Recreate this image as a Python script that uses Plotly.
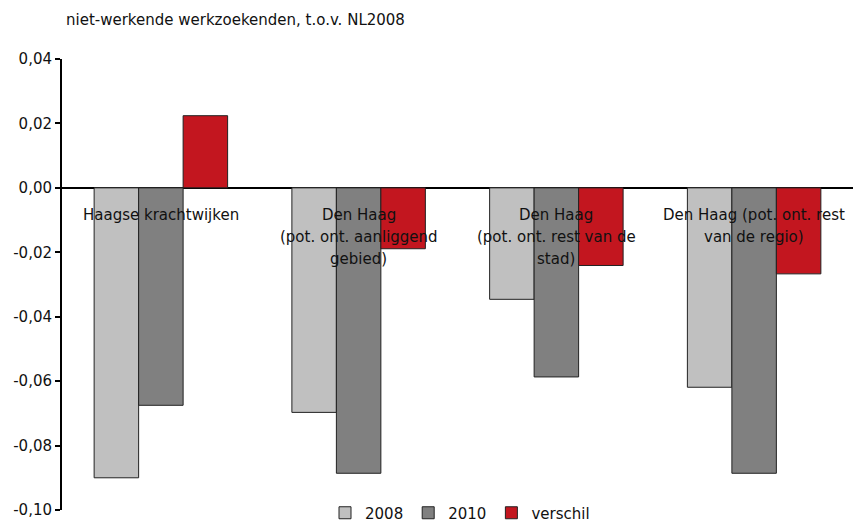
import plotly.graph_objects as go

# Chart data
categories = [
    "Haagse krachtwijken",
    "Den Haag<br>(pot. ont. aanliggend<br>gebied)",
    "Den Haag<br>(pot. ont. rest van de<br>stad)",
    "Den Haag (pot. ont. rest<br>van de regio)",
]
series_names = ["2008", "2010", "verschil"]
values_2008 = [-0.0900, -0.0697, -0.0346, -0.0619]
values_2010 = [-0.0675, -0.0886, -0.0587, -0.0886]
values_verschil = [0.0224, -0.0189, -0.0241, -0.0267]
series_colors = ["#C0C0C0", "#808080", "#C3161F"]

tick_values = [0.04, 0.02, 0.0, -0.02, -0.04, -0.06, -0.08, -0.10]
tick_labels = ["0,04", "0,02", "0,00", "-0,02", "-0,04", "-0,06", "-0,08", "-0,10"]

title_text = "niet-werkende werkzoekenden, t.o.v. NL2008"

FONT = "DejaVu Sans, Liberation Sans, Arial, sans-serif"
FS = 15
TXT = "#111111"
LINE_H = 22

W, H = 853, 523
M_L, M_R, M_T, M_B = 62, 0, 59, 13

x_idx = list(range(len(categories)))

fig = go.Figure()
for name, vals, color in zip(series_names,
                             [values_2008, values_2010, values_verschil],
                             series_colors):
    fig.add_trace(go.Bar(
        x=x_idx, y=vals, name=name,
        marker=dict(color=color, line=dict(color="#222222", width=1)),
    ))

# Category labels sit just under the zero line, centred on each group,
# one annotation per text line for a fixed line pitch
for i, label in enumerate(categories):
    for k, line in enumerate(label.split("<br>")):
        fig.add_annotation(
            x=i, y=0, xref="x", yref="y",
            text=line, showarrow=False,
            yanchor="middle", yshift=-(27 + LINE_H * k),
            font=dict(family=FONT, size=FS, color=TXT),
            align="center",
        )

# Title above the plot area, positioned in pixels
plot_h = H - M_T - M_B
plot_w = W - M_L - M_R
fig.add_annotation(
    x=(64 - M_L) / plot_w, y=1 + (M_T - 20) / plot_h,
    xref="paper", yref="paper",
    text=title_text, showarrow=False,
    font=dict(family=FONT, size=FS, color=TXT),
    xanchor="left", yanchor="middle",
)

fig.update_layout(
    width=W, height=H,
    margin=dict(l=M_L, r=M_R, t=M_T, b=M_B, autoexpand=False),
    paper_bgcolor="white", plot_bgcolor="white",
    barmode="group", bargap=0.325, bargroupgap=0,
    font=dict(family=FONT, size=FS, color=TXT),
    showlegend=True,
    legend=dict(
        orientation="h", x=460 / W, xanchor="center",
        xref="container", yref="container",
        y=1 - 513 / H, yanchor="middle",
        font=dict(family=FONT, size=FS, color=TXT),
        itemwidth=30,
        bgcolor="rgba(0,0,0,0)",
    ),
    xaxis=dict(
        range=[-0.5, len(categories) - 0.5],
        showticklabels=False, showgrid=False, zeroline=False,
        showline=False, ticks="",
    ),
    yaxis=dict(
        range=[-0.10, 0.04],
        tickvals=tick_values, ticktext=tick_labels,
        showgrid=False,
        zeroline=True, zerolinecolor="#000000", zerolinewidth=2,
        showline=True, linecolor="#000000", linewidth=2,
        ticks="outside", ticklen=5, tickwidth=2, tickcolor="#000000",
        tickfont=dict(family=FONT, size=FS, color=TXT),
    ),
)

fig.write_html("out.html")
